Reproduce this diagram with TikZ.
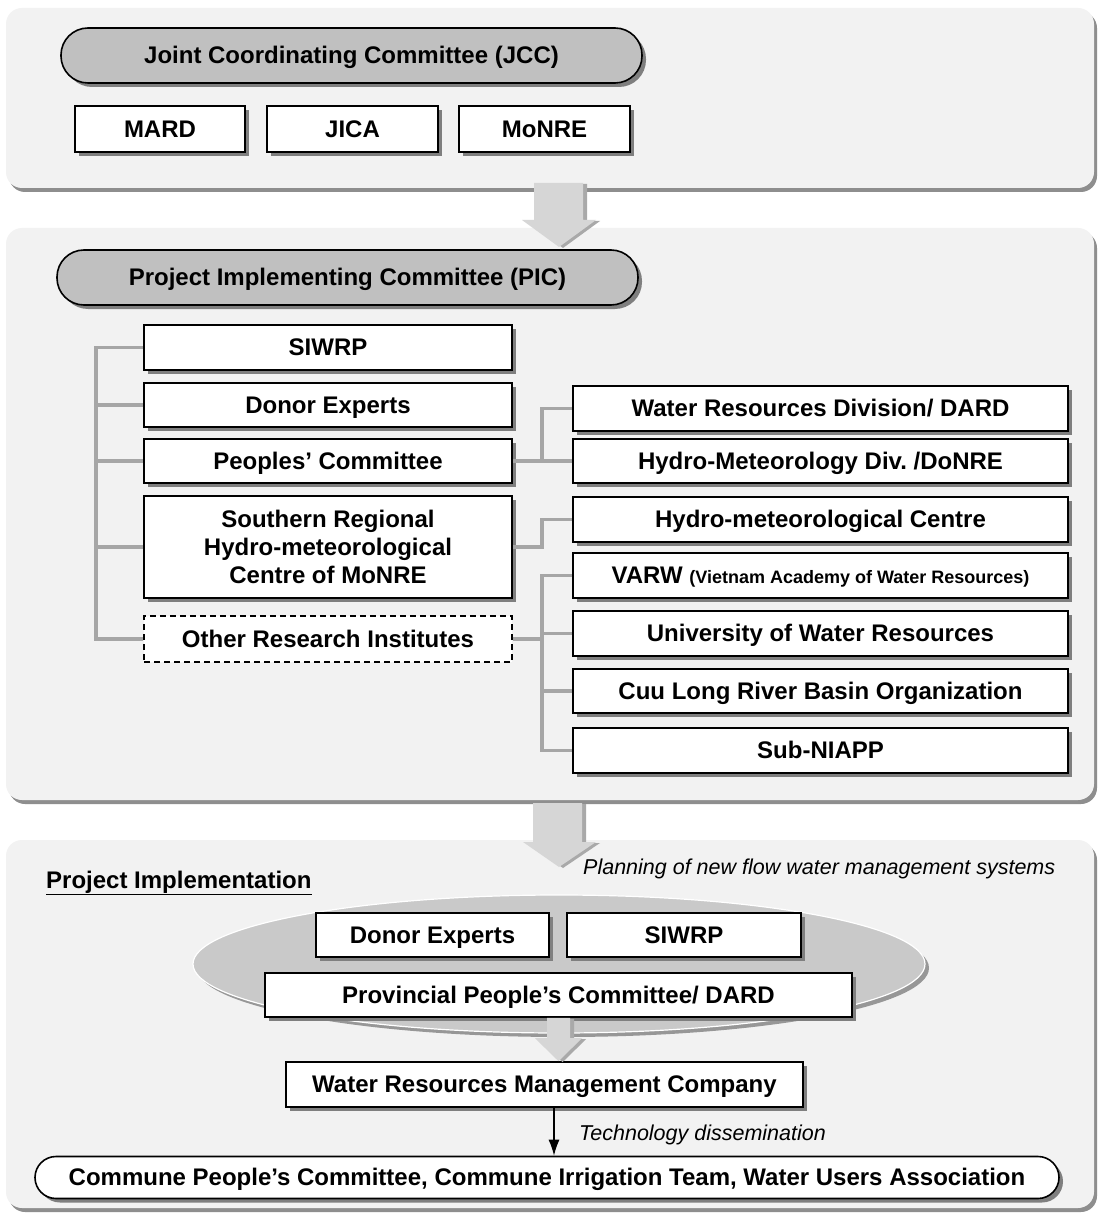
\documentclass[tikz,border=0pt]{standalone}
\usepackage{fontspec}
\setmainfont{Liberation Sans}
\usetikzlibrary{shadows,shapes.geometric,arrows.meta,calc}
\frenchspacing

\definecolor{panelbg}{HTML}{F2F2F2}
\definecolor{panelsh}{HTML}{8E8E8E}
\definecolor{pillfill}{HTML}{C0C0C0}
\definecolor{boxsh}{HTML}{7F7F7F}
\definecolor{linkgray}{HTML}{A6A6A6}
\definecolor{arrfill}{HTML}{D6D6D6}
\definecolor{arrsh}{HTML}{A9A9A9}
\definecolor{ellfill}{HTML}{C9C9C9}
\definecolor{ellsh}{HTML}{979797}

\tikzset{
  lbl/.style={font=\bfseries\fontsize{24}{28}\selectfont},
  wh/.style 2 args={minimum width=#1pt, minimum height=#2pt},
  oneline/.style={text height=17.5pt, text depth=1pt},
  box/.style={lbl, draw=black, line width=1.6pt, fill=white, inner sep=0pt, align=center,
    general shadow={fill=boxsh, shadow xshift=4pt, shadow yshift=-4pt}},
  sbox/.style={box, oneline},
  dashbox/.style={lbl, oneline, draw=black, line width=1.2pt, dash pattern=on 6pt off 4pt,
    fill=white, inner sep=0pt, align=center},
  pill/.style={sbox, fill=pillfill, rounded corners=27pt},
  wpill/.style={sbox, rounded corners=21pt},
  panel/.style={fill=panelbg, rounded corners=16pt,
    general shadow={fill=panelsh, shadow xshift=3pt, shadow yshift=-4pt}},
  conn/.style={draw=linkgray, line width=3.5pt},
  blockarr/.style={fill=arrfill,
    general shadow={fill=arrsh, shadow xshift=4pt, shadow yshift=-1pt}},
  note/.style={font=\itshape\fontsize{21.5}{24}\selectfont, inner sep=0pt},
  heading/.style={font=\bfseries\fontsize{24}{28}\selectfont, inner sep=0pt},
}

\begin{document}
\begin{tikzpicture}[x=1pt,y=-1pt]
\useasboundingbox (0,0) rectangle (1100,1214);
\fill[white] (0,0) rectangle (1100,1214);

% three background panels
\path[panel] (6,8) rectangle (1094,188);
\path[panel] (6,228) rectangle (1094,800);
\path[panel] (6,840) rectangle (1094,1208);

% block arrows between the panels
\path[blockarr] (534,183) -- (583,183) -- (583,220) -- (596,220) -- (559,247)
  -- (522,220) -- (534,220) -- cycle;
\path[blockarr] (533,803) -- (582,803) -- (582,842) -- (596,842) -- (559,867)
  -- (523,842) -- (533,842) -- cycle;

% ---- Joint Coordinating Committee
\node[pill, wh={581}{55}] (jcc) at (351.5,55.5) {Joint Coordinating Committee (JCC)};
\node[sbox, wh={170}{46}] (mard) at (160,129) {MARD};
\node[sbox, wh={171}{46}] (jica) at (352.5,129) {JICA};
\node[sbox, wh={171}{46}] (monre) at (544.5,129) {MoNRE};

% ---- Project Implementing Committee
\node[pill, wh={581}{55}] (pic) at (347.5,277.5) {Project Implementing Committee (PIC)};

\node[sbox, wh={368}{45}] (siwrp) at (328,347.5) {SIWRP};
\node[sbox, wh={368}{44}] (donor) at (328,405) {Donor Experts};
\node[sbox, wh={368}{44}] (peoples) at (328,461) {Peoples’ Committee};
\node[box, wh={368}{102}] (southern) at (328,547)
  {Southern Regional\\Hydro-meteorological\\Centre of MoNRE};
\node[dashbox, wh={368}{46}] (other) at (328,639) {Other Research Institutes};

\node[sbox, wh={495}{45}] (wrd) at (820.5,408.5) {Water Resources Division/ DARD};
\node[sbox, wh={495}{44}] (hmd) at (820.5,461) {Hydro-Meteorology Div. /DoNRE};
\node[sbox, wh={495}{45}] (hmc) at (820.5,519.5) {Hydro-meteorological Centre};
\node[sbox, wh={495}{45}] (varw) at (820.5,575.5)
  {VARW {\fontsize{18}{20}\selectfont (Vietnam Academy of Water Resources)}};
\node[sbox, wh={495}{45}] (uwr) at (820.5,633.5) {University of Water Resources};
\node[sbox, wh={495}{44}] (cuu) at (820.5,691) {Cuu Long River Basin Organization};
\node[sbox, wh={495}{45}] (sub) at (820.5,750.5) {Sub-NIAPP};

% bracket on the left
\coordinate (bar) at (96,0);
\draw[conn] (siwrp.west) -- (siwrp.west -| bar) -- (other.west -| bar) -- (other.west);
\draw[conn] (donor.west) -- (donor.west -| bar);
\draw[conn] (peoples.west) -- (peoples.west -| bar);
\draw[conn] (southern.west) -- (southern.west -| bar);

% links to the right-hand column
\coordinate (jx) at (542,0);
\draw[conn] (peoples.east) -- (peoples.east -| jx) -- (wrd.west -| jx) -- (wrd.west);
\draw[conn] (hmd.west) -- (hmd.west -| jx);
\draw[conn] (southern.east) -- (southern.east -| jx) -- (hmc.west -| jx) -- (hmc.west);
\draw[conn] (other.east) -- (other.east -| jx);
\draw[conn] (varw.west) -- (varw.west -| jx) -- (sub.west -| jx) -- (sub.west);
\draw[conn] (uwr.west) -- (uwr.west -| jx);
\draw[conn] (cuu.west) -- (cuu.west -| jx);

% ---- Project Implementation
\node[heading, anchor=base west] (pihead) at (46,888) {\underline{Project Implementation}};
\node[note, anchor=west] (plan) at (583,869) {Planning of new flow water management systems};

\node[ellipse, fill=ellfill, draw=white, line width=1.2pt, minimum width=732pt,
  minimum height=138pt, inner sep=0pt,
  general shadow={fill=ellsh, shadow xshift=4pt, shadow yshift=-4pt}] (grp) at (559,964) {};

\node[sbox, wh={233}{44}] (donor2) at (432.5,935) {Donor Experts};
\node[sbox, wh={234}{44}] (siwrp2) at (684,935) {SIWRP};
\node[sbox, wh={587}{44}] (prov) at (558.5,995) {Provincial People’s Committee/ DARD};

\node[sbox, wh={517}{45}] (wrmc) at (544.5,1084.5) {Water Resources Management Company};
\node[wpill, wh={1024}{42}] (commune) at (547,1177.5)
  {Commune People’s Committee, Commune Irrigation Team, Water Users Association};

% block arrow from the provincial level down to the company
\path[blockarr] let \p1=(prov.south), \p2=(wrmc.north) in
  (\x1-11.5pt,\y1) -- (\x1+11.5pt,\y1) -- (\x1+11.5pt,\y2+23pt) -- (\x1+23.5pt,\y2+23pt)
  -- (\x1,\y2) -- (\x1-23.5pt,\y2+23pt) -- (\x1-11.5pt,\y2+23pt) -- cycle;

% dissemination arrow
\coordinate (tx) at (554,0);
\draw[line width=1.3pt, -{Latex[length=16pt,width=11pt]}] (wrmc.south -| tx) -- (commune.north -| tx);
\node[note, anchor=west] (tech) at (579,1135) {Technology dissemination};
\end{tikzpicture}
\end{document}
